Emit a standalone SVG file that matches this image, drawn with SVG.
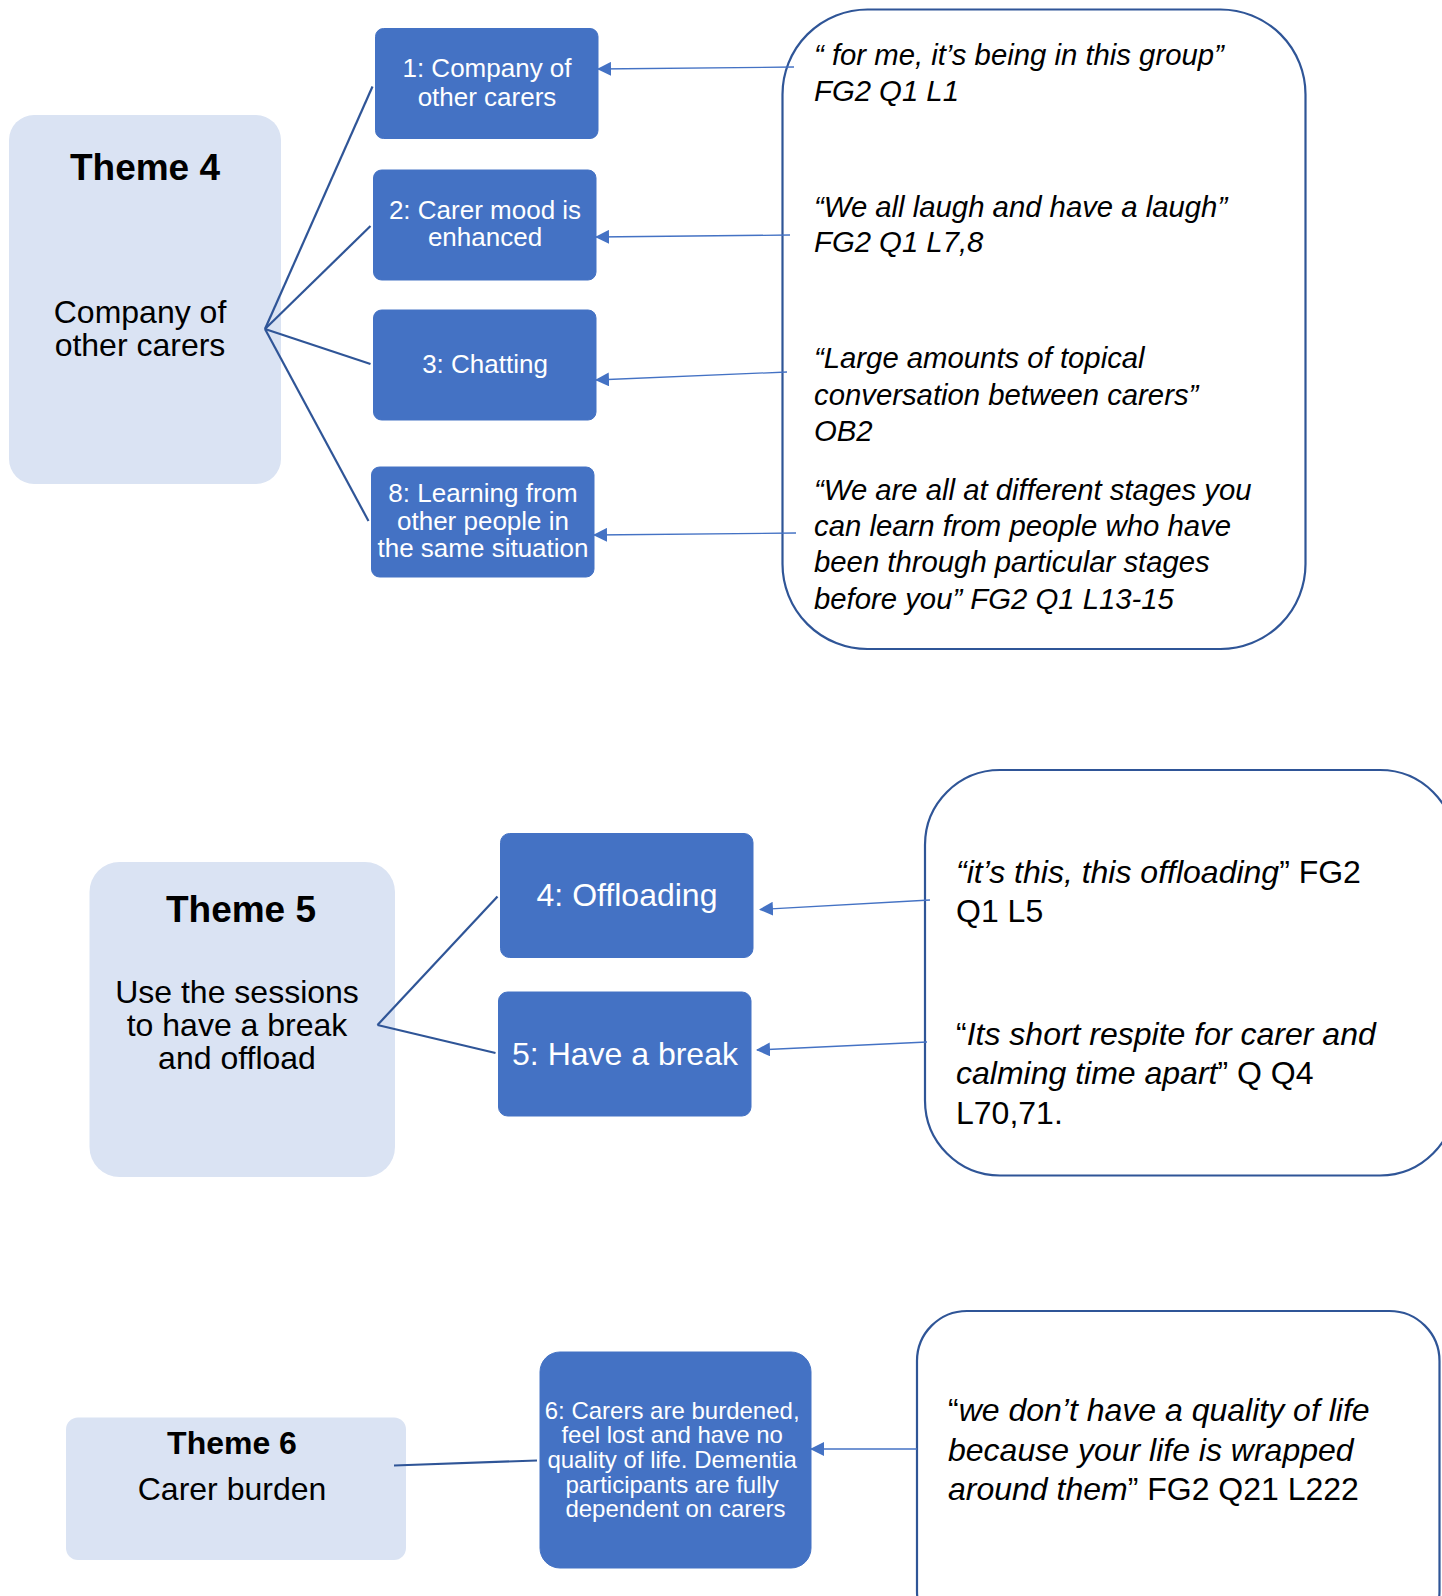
<svg xmlns="http://www.w3.org/2000/svg" width="1442" height="1596" viewBox="0 0 1442 1596">
<defs>
<style>
.theme{fill:#DAE3F3;stroke:none}
.sub{fill:#4472C4;stroke:#4472C4;stroke-width:1}
.quote{fill:#FFFFFF;stroke:#2F5597;stroke-width:2.2}
.fan{stroke:#2F5597;stroke-width:2.2;fill:none}
.arr{stroke:#4472C4;stroke-width:1.3;fill:none;marker-end:url(#ah)}
text{font-family:"Liberation Sans",Arial,sans-serif}
.tb{font-weight:bold;fill:#000;text-anchor:middle}
.tt{fill:#000;text-anchor:middle}
.ws{fill:#FFFFFF;text-anchor:middle}
.q{fill:#000}
.i{font-style:italic}
</style>
<marker id="ah" markerUnits="userSpaceOnUse" markerWidth="14" markerHeight="14" viewBox="0 0 14 14" refX="13" refY="7" orient="auto">
<path d="M0,0 L14,7 L0,14 Z" fill="#4472C4"/>
</marker>
</defs>
<rect width="1442" height="1596" fill="#FFFFFF"/>

<g id="theme4">
<rect class="theme" x="9" y="115" width="272" height="369" rx="25"/>
<text class="tb" x="145" y="180" font-size="37">Theme 4</text>
<text class="tt" x="140" y="323" font-size="32">Company of</text>
<text class="tt" x="140" y="356" font-size="32">other carers</text>
</g>

<g id="sub1">
<rect class="sub" x="375.5" y="28.5" width="222.5" height="110" rx="8"/>
<text class="ws" x="487" y="77" font-size="26">1: Company of</text>
<text class="ws" x="487" y="105.5" font-size="26">other carers</text>
</g>

<g id="sub2">
<rect class="sub" x="373.5" y="170" width="222.5" height="110" rx="8"/>
<text class="ws" x="485" y="219" font-size="26">2: Carer mood is</text>
<text class="ws" x="485" y="246" font-size="26">enhanced</text>
</g>

<g id="sub3">
<rect class="sub" x="373.5" y="310" width="222.5" height="110" rx="8"/>
<text class="ws" x="485" y="373" font-size="26">3: Chatting</text>
</g>

<g id="sub8">
<rect class="sub" x="371.5" y="467" width="222.5" height="110" rx="8"/>
<text class="ws" x="483" y="502" font-size="26">8: Learning from</text>
<text class="ws" x="483" y="529.5" font-size="26">other people in</text>
<text class="ws" x="483" y="557" font-size="26">the same situation</text>
</g>

<g id="quote1">
<rect class="quote" x="782.5" y="9.5" width="523" height="639.5" rx="85"/>
<text class="q i" font-size="29.3">
<tspan x="814" y="65">“ for me, it’s being in this group”</tspan>
<tspan x="814" y="101">FG2 Q1 L1</tspan>
<tspan x="814" y="217">“We all laugh and have a laugh”</tspan>
<tspan x="814" y="252">FG2 Q1 L7,8</tspan>
<tspan x="814" y="368">“Large amounts of topical</tspan>
<tspan x="814" y="405">conversation between carers”</tspan>
<tspan x="814" y="441">OB2</tspan>
<tspan x="814" y="500">“We are all at different stages you</tspan>
<tspan x="814" y="536">can learn from people who have</tspan>
<tspan x="814" y="572">been through particular stages</tspan>
<tspan x="814" y="609">before you” FG2 Q1 L13-15</tspan>
</text>
</g>

<g id="theme5">
<rect class="theme" x="89.5" y="862" width="305.5" height="315" rx="30"/>
<text class="tb" x="241" y="922" font-size="37">Theme 5</text>
<text class="tt" x="237" y="1002.5" font-size="32">Use the sessions</text>
<text class="tt" x="237" y="1036" font-size="32">to have a break</text>
<text class="tt" x="237" y="1069" font-size="32">and offload</text>
</g>

<g id="sub4">
<rect class="sub" x="500.5" y="833.5" width="252.5" height="124" rx="9"/>
<text class="ws" x="627" y="906" font-size="32">4: Offloading</text>
</g>

<g id="sub5">
<rect class="sub" x="498.5" y="992" width="252.5" height="124" rx="9"/>
<text class="ws" x="625" y="1064.5" font-size="32">5: Have a break</text>
</g>

<g id="quote2">
<rect class="quote" x="925" y="770" width="530" height="405.5" rx="75"/>
<text class="q" font-size="32">
<tspan x="956" y="883"><tspan class="i">“it’s this, this offloading</tspan>” FG2</tspan>
<tspan x="956" y="922">Q1 L5</tspan>
<tspan x="956" y="1044.5">“<tspan class="i">Its short respite for carer and</tspan></tspan>
<tspan x="956" y="1084"><tspan class="i">calming time apart</tspan>” Q Q4</tspan>
<tspan x="956" y="1123.5">L70,71.</tspan>
</text>
</g>

<g id="theme6">
<rect class="theme" x="66" y="1417.5" width="340" height="142.5" rx="12"/>
<text class="tb" x="232" y="1453.5" font-size="32">Theme 6</text>
<text class="tt" x="232" y="1499.5" font-size="32">Carer burden</text>
</g>

<g id="sub6">
<rect class="sub" x="540" y="1352" width="271" height="216" rx="20"/>
<text class="ws" font-size="24">
<tspan x="675.5" y="1418.5">6: Carers are burdened,</tspan>
<tspan x="675.5" y="1443">feel lost and have no</tspan>
<tspan x="675.5" y="1468">quality of life. Dementia</tspan>
<tspan x="675.5" y="1492.5">participants are fully</tspan>
<tspan x="675.5" y="1517">dependent on carers</tspan>
</text>
</g>

<g id="quote3">
<rect class="quote" x="917" y="1311" width="522.5" height="330" rx="50"/>
<text class="q" font-size="32">
<tspan x="948" y="1420.5">“<tspan class="i">we don’t have a quality of life</tspan></tspan>
<tspan x="948" y="1460.5" class="i">because your life is wrapped</tspan>
<tspan x="948" y="1499.5"><tspan class="i">around them</tspan>” FG2 Q21 L222</tspan>
</text>
</g>

<g id="connectors">
<line class="fan" x1="265" y1="329" x2="372.5" y2="86.5"/>
<line class="fan" x1="265" y1="329" x2="370.5" y2="226"/>
<line class="fan" x1="265" y1="329" x2="370.5" y2="364"/>
<line class="fan" x1="265" y1="329" x2="368.5" y2="521"/>
<line class="arr" x1="794" y1="67" x2="598" y2="69"/>
<line class="arr" x1="790" y1="235" x2="596" y2="237"/>
<line class="arr" x1="787" y1="372" x2="596" y2="380"/>
<line class="arr" x1="796" y1="533" x2="594" y2="535"/>
<line class="fan" x1="377.5" y1="1025" x2="497.5" y2="896.5"/>
<line class="fan" x1="377.5" y1="1025" x2="495.5" y2="1053"/>
<line class="arr" x1="930" y1="900" x2="760" y2="909.5"/>
<line class="arr" x1="927" y1="1042" x2="757" y2="1050"/>
<line class="fan" x1="394" y1="1465.5" x2="537" y2="1460.5" stroke-width="2.6"/>
<line class="arr" x1="917" y1="1449" x2="811" y2="1449"/>
</g>
</svg>
